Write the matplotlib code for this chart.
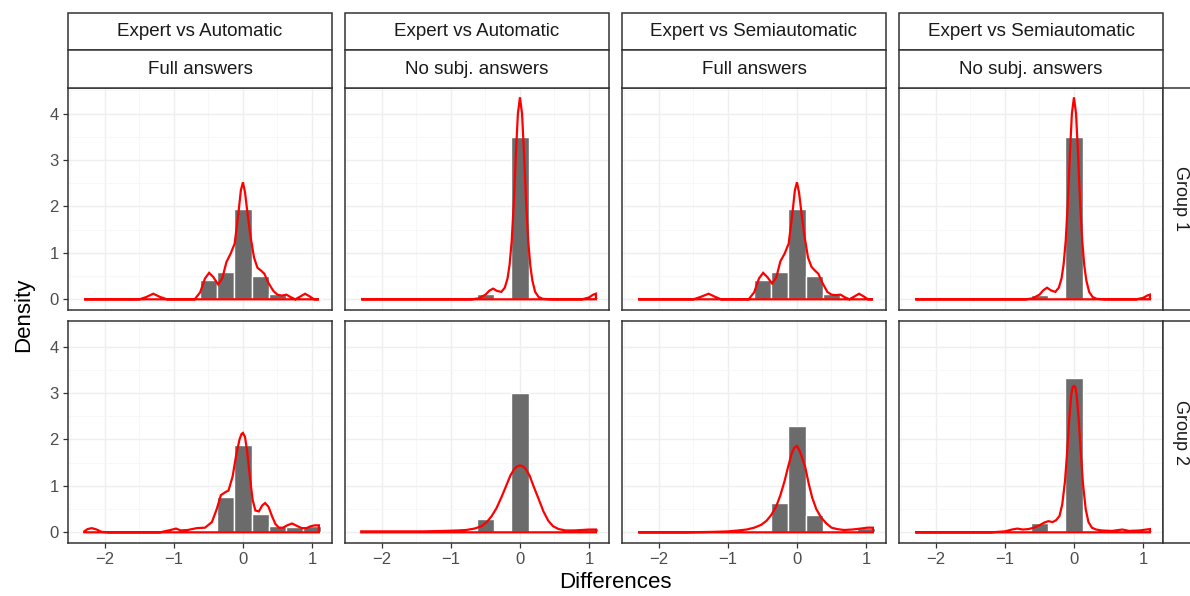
import numpy as np
import matplotlib
matplotlib.use("Agg")
import matplotlib.pyplot as plt
from matplotlib.patches import Rectangle
from matplotlib.ticker import MultipleLocator, FixedLocator

plt.rcParams['font.family'] = ['Liberation Sans', 'DejaVu Sans']

# facet labels
comparisons = ["Expert vs Automatic", "Expert vs Automatic",
               "Expert vs Semiautomatic", "Expert vs Semiautomatic"]
answer_sets = ["Full answers", "No subj. answers", "Full answers", "No subj. answers"]
groups = ["Group 1", "Group 2"]

# histogram (binwidth 0.25)
bin_centers = [-0.5, -0.25, 0.0, 0.25, 0.5, 0.75, 1.0]
hist_r1c1 = [0.42, 0.59, 1.95, 0.51, 0.12, 0.02, 0.02]
hist_r1c2 = [0.12, 0.00, 3.50, 0.00, 0.00, 0.00, 0.04]
hist_r1c3 = [0.41, 0.59, 1.95, 0.50, 0.12, 0.02, 0.02]
hist_r1c4 = [0.10, 0.00, 3.49, 0.00, 0.00, 0.00, 0.04]
hist_r2c1 = [0.02, 0.75, 1.88, 0.40, 0.13, 0.12, 0.13]
hist_r2c2 = [0.29, 0.00, 3.00, 0.02, 0.00, 0.00, 0.09]
hist_r2c3 = [0.02, 0.63, 2.28, 0.37, 0.02, 0.00, 0.10]
hist_r2c4 = [0.20, 0.00, 3.33, 0.00, 0.00, 0.00, 0.04]

# density curves
dx_r1c1 = [-2.30, -1.50, -1.40, -1.30, -1.20, -1.10, -0.70, -0.62, -0.55, -0.49, -0.43, -0.36,
           -0.30, -0.24, -0.18, -0.12, -0.07, -0.03, 0.00, 0.03, 0.07, 0.11, 0.16, 0.21, 0.26,
           0.31, 0.37, 0.44, 0.50, 0.56, 0.63, 0.70, 0.76, 0.83, 0.90, 0.97, 1.03, 1.10]
dy_r1c1 = [0.00, 0.00, 0.05, 0.12, 0.05, 0.00, 0.00, 0.15, 0.45, 0.57, 0.48, 0.32,
           0.45, 0.80, 0.98, 1.20, 1.80, 2.35, 2.52, 2.30, 1.80, 1.35, 0.90, 0.68, 0.62,
           0.55, 0.35, 0.18, 0.10, 0.08, 0.10, 0.04, 0.00, 0.06, 0.12, 0.06, 0.00, 0.00]

dx_r1c2 = [-2.30, -0.70, -0.60, -0.50, -0.44, -0.39, -0.33, -0.27, -0.22, -0.18, -0.15, -0.12,
           -0.09, -0.06, -0.03, 0.00, 0.03, 0.06, 0.09, 0.12, 0.15, 0.18, 0.22, 0.27, 0.33,
           0.45, 0.90, 1.00, 1.06, 1.10]
dy_r1c2 = [0.00, 0.00, 0.02, 0.10, 0.19, 0.23, 0.18, 0.16, 0.25, 0.45, 0.75, 1.25,
           2.05, 3.10, 4.00, 4.35, 4.00, 3.10, 2.05, 1.25, 0.72, 0.40, 0.16, 0.05, 0.01,
           0.00, 0.00, 0.04, 0.10, 0.12]

dx_r1c3 = [-2.30, -1.50, -1.40, -1.28, -1.18, -1.10, -0.70, -0.62, -0.55, -0.49, -0.43, -0.36,
           -0.30, -0.24, -0.18, -0.12, -0.07, -0.03, 0.00, 0.03, 0.07, 0.11, 0.16, 0.21, 0.26,
           0.31, 0.37, 0.44, 0.50, 0.56, 0.63, 0.70, 0.76, 0.83, 0.90, 0.97, 1.03, 1.10]
dy_r1c3 = [0.00, 0.00, 0.05, 0.12, 0.05, 0.00, 0.00, 0.15, 0.45, 0.57, 0.48, 0.34,
           0.47, 0.82, 0.98, 1.20, 1.80, 2.35, 2.52, 2.30, 1.80, 1.35, 0.90, 0.70, 0.62,
           0.55, 0.35, 0.16, 0.10, 0.09, 0.10, 0.04, 0.00, 0.06, 0.12, 0.06, 0.00, 0.00]

dx_r1c4 = [-2.30, -0.70, -0.60, -0.50, -0.44, -0.39, -0.33, -0.27, -0.22, -0.18, -0.15, -0.12,
           -0.09, -0.06, -0.03, 0.00, 0.03, 0.06, 0.09, 0.12, 0.15, 0.18, 0.22, 0.27, 0.33,
           0.45, 0.90, 1.00, 1.06, 1.10]
dy_r1c4 = [0.00, 0.00, 0.02, 0.10, 0.20, 0.25, 0.19, 0.16, 0.25, 0.45, 0.75, 1.25,
           2.05, 3.10, 4.00, 4.35, 4.00, 3.10, 2.05, 1.25, 0.72, 0.40, 0.16, 0.05, 0.01,
           0.00, 0.00, 0.03, 0.08, 0.10]

dx_r2c1 = [-2.30, -2.25, -2.19, -2.12, -2.05, -1.95, -1.20, -1.05, -0.97, -0.90, -0.80, -0.67,
           -0.55, -0.45, -0.38, -0.32, -0.26, -0.21, -0.15, -0.10, -0.05, -0.02, 0.00, 0.03,
           0.06, 0.10, 0.14, 0.18, 0.23, 0.28, 0.32, 0.37, 0.42, 0.47, 0.52, 0.58, 0.64, 0.71,
           0.78, 0.85, 0.92, 0.98, 1.04, 1.10]
dy_r2c1 = [0.02, 0.07, 0.09, 0.06, 0.01, 0.00, 0.00, 0.05, 0.08, 0.04, 0.05, 0.09,
           0.10, 0.22, 0.50, 0.80, 0.86, 0.90, 1.20, 1.65, 2.00, 2.12, 2.14, 2.05,
           1.75, 1.20, 0.70, 0.47, 0.45, 0.58, 0.63, 0.55, 0.35, 0.18, 0.10, 0.10, 0.15, 0.19,
           0.14, 0.09, 0.09, 0.13, 0.15, 0.15]

dx_r2c2 = [-2.30, -1.80, -1.40, -1.10, -0.90, -0.78, -0.66, -0.56, -0.48, -0.41, -0.34, -0.27,
           -0.20, -0.14, -0.08, -0.04, 0.00, 0.04, 0.08, 0.14, 0.20, 0.27, 0.34, 0.41, 0.48,
           0.56, 0.66, 0.78, 0.90, 1.00, 1.10]
dy_r2c2 = [0.02, 0.02, 0.02, 0.03, 0.04, 0.05, 0.08, 0.13, 0.22, 0.35, 0.52, 0.75,
           1.00, 1.22, 1.37, 1.42, 1.44, 1.42, 1.37, 1.22, 0.98, 0.72, 0.45, 0.25, 0.13,
           0.07, 0.04, 0.04, 0.05, 0.06, 0.06]

dx_r2c3 = [-2.30, -1.60, -1.20, -1.00, -0.85, -0.73, -0.62, -0.52, -0.44, -0.37, -0.30, -0.24,
           -0.18, -0.13, -0.08, -0.04, 0.00, 0.04, 0.08, 0.12, 0.17, 0.22, 0.28, 0.35, 0.42,
           0.50, 0.58, 0.68, 0.80, 0.92, 1.02, 1.10]
dy_r2c3 = [0.00, 0.00, 0.01, 0.02, 0.04, 0.06, 0.10, 0.16, 0.25, 0.38, 0.56, 0.80,
           1.10, 1.40, 1.68, 1.82, 1.86, 1.75, 1.58, 1.40, 1.05, 0.75, 0.50, 0.32, 0.20,
           0.10, 0.07, 0.05, 0.06, 0.08, 0.10, 0.10]

dx_r2c4 = [-2.30, -1.20, -1.00, -0.90, -0.82, -0.74, -0.66, -0.58, -0.50, -0.43, -0.37, -0.31,
           -0.26, -0.21, -0.17, -0.13, -0.10, -0.07, -0.04, -0.02, 0.00, 0.02, 0.04, 0.07,
           0.10, 0.13, 0.17, 0.21, 0.26, 0.32, 0.40, 0.55, 0.70, 0.80, 0.95, 1.05, 1.10]
dy_r2c4 = [0.00, 0.00, 0.02, 0.06, 0.08, 0.06, 0.07, 0.10, 0.15, 0.21, 0.24, 0.22,
           0.26, 0.35, 0.60, 1.10, 1.70, 2.40, 2.95, 3.12, 3.15, 3.12, 2.95, 2.40,
           1.70, 1.05, 0.50, 0.22, 0.10, 0.06, 0.04, 0.03, 0.06, 0.03, 0.04, 0.06, 0.07]

hists = [[hist_r1c1, hist_r1c2, hist_r1c3, hist_r1c4],
         [hist_r2c1, hist_r2c2, hist_r2c3, hist_r2c4]]
dens = [[(dx_r1c1, dy_r1c1), (dx_r1c2, dy_r1c2), (dx_r1c3, dy_r1c3), (dx_r1c4, dy_r1c4)],
        [(dx_r2c1, dy_r2c1), (dx_r2c2, dy_r2c2), (dx_r2c3, dy_r2c3), (dx_r2c4, dy_r2c4)]]

W, H = 1190, 596
fig = plt.figure(figsize=(W / 100, H / 100), dpi=100)


def box(x0, y0, w, h):
    # pixel box (top-left origin) -> figure fraction
    return [x0 / W, 1 - (y0 + h) / H, w / W, h / H]


BORDER = '#333333'
col_left = [68, 345, 622, 899]
panel_w = 264
row_top = [88, 321]
panel_h = 222
strip_tops = [13, 50]
strip_h = [37, 38]
right_strip_w = 38

for r in range(2):
    for c in range(4):
        ax = fig.add_axes(box(col_left[c], row_top[r], panel_w, panel_h))
        ax.set_xlim(-2.535, 1.29)
        ax.set_ylim(-0.23, 4.55)
        ax.xaxis.set_major_locator(FixedLocator([-2, -1, 0, 1]))
        ax.xaxis.set_minor_locator(FixedLocator([-2.5, -1.5, -0.5, 0.5]))
        ax.yaxis.set_major_locator(MultipleLocator(1))
        ax.yaxis.set_minor_locator(FixedLocator([0.5, 1.5, 2.5, 3.5, 4.5]))
        ax.grid(which='major', color='#EFEFEF', lw=1.0, zorder=0)
        ax.grid(which='minor', color='#F6F6F6', lw=0.6, zorder=0)
        ax.set_axisbelow(True)
        for sp in ax.spines.values():
            sp.set_color(BORDER)
            sp.set_linewidth(1.1)
        ax.tick_params(which='major', length=3.6, width=0.9, color=BORDER,
                       labelcolor='#4D4D4D', labelsize=12, pad=3)
        ax.tick_params(which='minor', length=0)

        ax.bar(bin_centers, hists[r][c], width=0.25, color='#6B6B6B',
               edgecolor='white', linewidth=1.0, zorder=2)
        xs, ys = dens[r][c]
        px = np.r_[xs[0], xs, xs[-1]]
        py = np.r_[0.0, ys, 0.0]
        ax.fill(px, py, facecolor='none', edgecolor='#FF0000', lw=1.6, zorder=3)

        if c > 0:
            ax.tick_params(axis='y', which='both', left=False, labelleft=False)
        if r == 0:
            ax.tick_params(axis='x', which='both', bottom=False, labelbottom=False)
        else:
            ax.set_xticklabels(['\u22122', '\u22121', '0', '1'])

        # top strips
        if r == 0:
            for k, lab in enumerate([comparisons[c], answer_sets[c]]):
                fig.patches.append(Rectangle(
                    (col_left[c] / W, 1 - (strip_tops[k] + strip_h[k]) / H),
                    panel_w / W, strip_h[k] / H, transform=fig.transFigure,
                    facecolor='white', edgecolor=BORDER, lw=1.1))
                fig.text((col_left[c] + panel_w / 2) / W,
                         1 - (strip_tops[k] + strip_h[k] / 2) / H, lab,
                         ha='center', va='center', fontsize=13.5, color='#1A1A1A')

    # right strip
    x_rs = col_left[3] + panel_w
    fig.patches.append(Rectangle(
        (x_rs / W, 1 - (row_top[r] + panel_h) / H), right_strip_w / W, panel_h / H,
        transform=fig.transFigure, facecolor='white', edgecolor=BORDER, lw=1.1))
    fig.text((x_rs + 17) / W, 1 - (row_top[r] + panel_h / 2) / H,
             groups[r], rotation=-90, ha='center', va='center', fontsize=13,
             color='#1A1A1A')

fig.text((col_left[0] + col_left[3] + panel_w) / 2 / W, 1 - 583 / H, "Differences",
         ha='center', va='center', fontsize=16)
fig.text(24 / W, 1 - 315 / H, "Density", rotation=90, ha='center', va='center',
         fontsize=16)

fig.savefig("out.png", dpi=100)
